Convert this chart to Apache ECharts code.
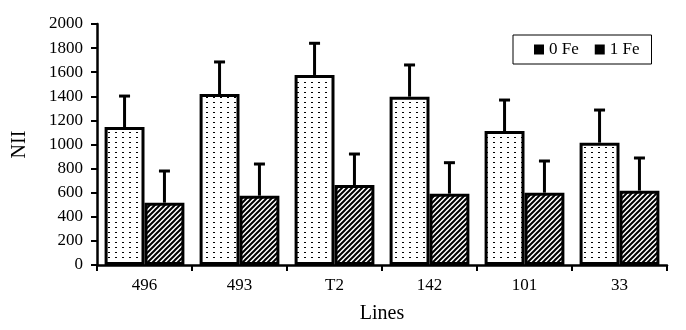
<!DOCTYPE html>
<html>
<head>
<meta charset="UTF-8" />
<title>NII by line</title>
<script src="https://cdn.jsdelivr.net/npm/echarts@6/dist/echarts.min.js"></script>
<style>
  html, body { margin: 0; padding: 0; background: #fff; }
  #chart { width: 686px; height: 330px; }
</style>
</head>
<body>
<div id="chart"></div>
<script>
// data
var lines = ['496', '493', 'T2', '142', '101', '33'];
var fe0 = [1145, 1419, 1577, 1397, 1112, 1015];
var fe0Top = [1402, 1685, 1840, 1660, 1369, 1286];   // top of error bar
var fe1 = [517, 575, 664, 592, 600, 617];
var fe1Top = [780, 838, 921, 849, 863, 888];
var yTicks = { min: 0, max: 2000, step: 200 };

var font = 'Liberation Serif';
var gapPct = 0.16;

// fill patterns
function dotPattern() {
  var c = document.createElement('canvas');
  c.width = 7; c.height = 5;
  var ctx = c.getContext('2d');
  ctx.fillStyle = '#fff';
  ctx.fillRect(0, 0, 7, 5);
  ctx.fillStyle = '#000';
  ctx.fillRect(3, 2, 2, 1);
  return c;
}
function hatchPattern() {
  var c = document.createElement('canvas');
  c.width = 5; c.height = 5;
  var ctx = c.getContext('2d');
  ctx.fillStyle = '#fff';
  ctx.fillRect(0, 0, 5, 5);
  ctx.strokeStyle = '#000';
  ctx.lineWidth = 2;
  ctx.beginPath();
  ctx.moveTo(-1, 6); ctx.lineTo(6, -1);
  ctx.moveTo(-1, 1); ctx.lineTo(1, -1);
  ctx.moveTo(4, 6); ctx.lineTo(6, 4);
  ctx.stroke();
  return c;
}

// error bar renderer; side -1 = left bar, +1 = right bar
function errorBar(values, tops, side) {
  return function (params, api) {
    var i = api.value(0);
    var base = api.coord([i, values[i]]);
    var top = api.coord([i, tops[i]]);
    var catW = api.size([1, 0])[0];
    var barW = catW * (1 - gapPct) / 2;
    var x = base[0] + side * barW / 2;
    var style = { stroke: '#000', lineWidth: 3 };
    return {
      type: 'group',
      children: [
        { type: 'line', shape: { x1: x, y1: base[1], x2: x, y2: top[1] }, style: style },
        { type: 'line', shape: { x1: x - 5.5, y1: top[1], x2: x + 5.5, y2: top[1] }, style: style }
      ]
    };
  };
}

var chart = echarts.init(document.getElementById('chart'));
chart.setOption({
  backgroundColor: '#fff',
  animation: false,
  grid: { left: 97, right: 19, top: 24, bottom: 65 },
  legend: {
    left: 513, top: 35,
    orient: 'horizontal',
    borderColor: '#000', borderWidth: 1,
    padding: [6, 12, 6, 21],
    itemWidth: 10, itemHeight: 10, itemGap: 16,
    textStyle: { fontFamily: font, fontSize: 17, color: '#000' },
    data: [
      { name: '0 Fe', icon: 'rect', itemStyle: { color: '#000', borderWidth: 0 } },
      { name: '1 Fe', icon: 'rect', itemStyle: { color: '#000', borderWidth: 0 } }
    ]
  },
  xAxis: {
    type: 'category',
    data: lines,
    name: 'Lines',
    nameLocation: 'middle',
    nameGap: 39,
    nameTextStyle: { fontFamily: font, fontSize: 20, color: '#000' },
    axisLine: { lineStyle: { color: '#000', width: 2.5 } },
    axisTick: { show: true, length: 6, lineStyle: { color: '#000', width: 2 } },
    axisLabel: { fontFamily: font, fontSize: 17, color: '#000', margin: 12 }
  },
  yAxis: {
    type: 'value',
    min: yTicks.min, max: yTicks.max, interval: yTicks.step,
    name: 'NII',
    nameLocation: 'middle',
    nameGap: 67,
    nameTextStyle: { fontFamily: font, fontSize: 20, color: '#000' },
    axisLine: { show: true, lineStyle: { color: '#000', width: 2.5 } },
    axisTick: { show: true, length: 6, lineStyle: { color: '#000', width: 2 } },
    axisLabel: {
      fontFamily: font, fontSize: 17, color: '#000', margin: 14,
      formatter: function (v) { return String(v); }
    },
    splitLine: { show: false }
  },
  series: [
    {
      name: '0 Fe', type: 'bar', data: fe0,
      barGap: 0, barCategoryGap: (gapPct * 100) + '%',
      itemStyle: { color: { image: dotPattern(), repeat: 'repeat' }, borderColor: '#000', borderWidth: 3 }
    },
    {
      name: '1 Fe', type: 'bar', data: fe1,
      barGap: 0, barCategoryGap: (gapPct * 100) + '%',
      itemStyle: { color: { image: hatchPattern(), repeat: 'repeat' }, borderColor: '#000', borderWidth: 3 }
    },
    {
      type: 'custom', name: 'err0', silent: true, z: 1,
      data: lines.map(function (d, i) { return [i]; }),
      renderItem: errorBar(fe0, fe0Top, -1)
    },
    {
      type: 'custom', name: 'err1', silent: true, z: 1,
      data: lines.map(function (d, i) { return [i]; }),
      renderItem: errorBar(fe1, fe1Top, 1)
    }
  ]
});
</script>
</body>
</html>
